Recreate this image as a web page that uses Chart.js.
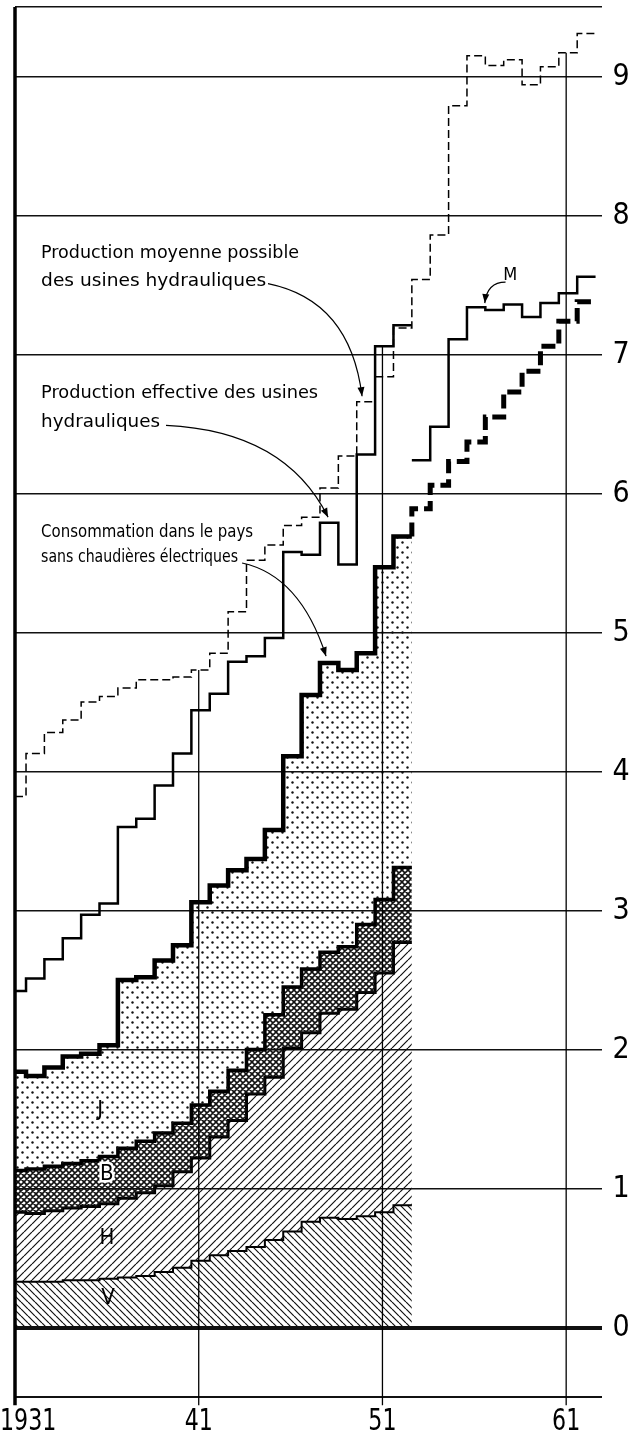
<!DOCTYPE html>
<html>
<head>
<meta charset="utf-8">
<script src="https://cdn.jsdelivr.net/npm/chart.js@4.4.1/dist/chart.umd.min.js"></script>
<style>
  html, body { margin: 0; padding: 0; background: #fff; }
  canvas { display: block; }
</style>
</head>
<body>
<canvas id="chart" width="643" height="1439"></canvas>
<script>
// ---- data (TWh per year) ----
const years = [1931,1932,1933,1934,1935,1936,1937,1938,1939,1940,1941,1942,1943,1944,1945,1946,1947,1948,1949,1950,1951,1952];
const consumption   = [1.84,1.81,1.87,1.95,1.97,2.03,2.50,2.52,2.64,2.75,3.06,3.18,3.29,3.37,3.58,4.11,4.55,4.78,4.73,4.85,5.47,5.69];
const topB          = [1.13,1.14,1.16,1.18,1.20,1.23,1.29,1.34,1.40,1.47,1.60,1.70,1.85,2.00,2.25,2.45,2.58,2.70,2.74,2.90,3.08,3.31];
const topH          = [0.83,0.82,0.84,0.86,0.87,0.89,0.93,0.97,1.02,1.12,1.22,1.37,1.49,1.68,1.80,2.01,2.12,2.26,2.29,2.41,2.55,2.77];
const topV          = [0.33,0.33,0.33,0.34,0.34,0.35,0.36,0.37,0.40,0.43,0.48,0.52,0.55,0.58,0.63,0.69,0.76,0.79,0.78,0.80,0.83,0.88];
const prodEffective = [2.42,2.51,2.65,2.80,2.97,3.05,3.60,3.66,3.90,4.13,4.44,4.56,4.79,4.83,4.96,5.58,5.56,5.79,5.49,6.28,7.06,7.21];

const forecastYears = [1953,1954,1955,1956,1957,1958,1959,1960,1961,1962];
const consForecast  = [5.89,6.06,6.23,6.37,6.55,6.73,6.88,7.06,7.24,7.38];
const prodM         = [6.24,6.48,7.11,7.34,7.32,7.36,7.27,7.37,7.44,7.56];

const possibleYears = [1931,1932,1933,1934,1935,1936,1937,1938,1939,1940,1941,1942,1943,1944,1945,1946,
                       1947,1948,1949,1950,1951,1952,1953,1954,1955,1956,1957,1958,1959,1960,1961,1962];
const prodPossible  = [3.82,4.13,4.28,4.37,4.50,4.54,4.60,4.66,4.66,4.68,4.73,4.85,5.15,5.52,5.63,5.77,
                       5.83,6.04,6.27,6.66,6.84,7.19,7.54,7.86,8.79,9.15,9.08,9.12,8.94,9.07,9.17,9.31];

const tickYears = [1931, 1941, 1951, 1961];
const yTicks = [0,1,2,3,4,5,6,7,8,9];

const X_MIN = 1931, X_MAX = 1962.95, Y_MIN = -0.5, Y_MAX = 9.5;
const SHIFT = 0.4;           // each yearly step runs from year-0.4 to year+0.6
const FONT = "'DejaVu Sans Condensed', 'DejaVu Sans', sans-serif";

function steps(yrs, vals){
  const pts = yrs.map((yr, i) => ({ x: Math.max(X_MIN, yr - SHIFT), y: vals[i] }));
  pts.push({ x: yrs[yrs.length-1] + 1 - SHIFT, y: vals[vals.length-1] });
  return pts;
}
function valueAt(yrs, vals, yr){ const i = yrs.indexOf(yr); return i < 0 ? -Infinity : vals[i]; }

// hatch fills
function pattern(kind){
  const s = kind === "dots" ? 10 : kind === "slash" ? 8 : kind === "cross" ? 6 : 7;
  const c = document.createElement("canvas"); c.width = s; c.height = s;
  const g = c.getContext("2d");
  g.strokeStyle = "#111"; g.fillStyle = "#111";
  g.lineWidth = kind === "cross" ? 1.6 : 1.2;
  g.beginPath();
  if (kind === "slash" || kind === "cross")
    for (const k of [-1,0,1]) { g.moveTo(k*s, s); g.lineTo(k*s + s, 0); }
  if (kind === "back" || kind === "cross")
    for (const k of [-1,0,1]) { g.moveTo(k*s, 0); g.lineTo(k*s + s, s); }
  g.stroke();
  if (kind === "dots") {
    g.beginPath(); g.arc(2.5, 2.5, 1.2, 0, Math.PI*2); g.fill();
    g.beginPath(); g.arc(7.5, 7.5, 1.2, 0, Math.PI*2); g.fill();
  }
  return g.createPattern(c, "repeat");
}

const line = (data, width, extra) => Object.assign({
  data, borderColor: "#000", borderWidth: width, pointRadius: 0, stepped: "before",
  fill: false, borderCapStyle: "butt", borderJoinStyle: "miter", order: 1
}, extra || {});

const datasets = [
  line(steps(years, consumption), 4.5, { fill: 1, backgroundColor: pattern("dots"), order: 5 }),   // J
  line(steps(years, topB), 3.5, { fill: 2, backgroundColor: pattern("cross"), order: 5 }),         // B
  line(steps(years, topH), 3, { fill: 3, backgroundColor: pattern("slash"), order: 5 }),           // H
  line(steps(years, topV), 2, { fill: "origin", backgroundColor: pattern("back"), order: 5 }),     // V
  line(steps(years, prodEffective), 2.5),
  line(steps(possibleYears, prodPossible), 1.5, { borderDash: [8, 4] }),
  line(steps(forecastYears, prodM), 2.5),
  line([{ x: years[years.length-1] + 1 - SHIFT, y: consumption[consumption.length-1] }]
        .concat(steps(forecastYears, consForecast)), 5, { borderDash: [14, 6] })
];

// left axis and vertical year lines (they stop at the highest curve)
datasets.push(line([{ x: X_MIN, y: Y_MIN - 0.06 }, { x: X_MIN, y: Y_MAX }], 3.5, { stepped: false, clip: false, order: 3 }));
tickYears.slice(1).forEach(yr => {
  const top = Math.max(valueAt(possibleYears, prodPossible, yr), valueAt(years, prodEffective, yr),
                       valueAt(forecastYears, prodM, yr));
  datasets.push(line([{ x: yr, y: Y_MIN - 0.06 }, { x: yr, y: top }], 1.3, { stepped: false, clip: false, order: 3 }));
});

function fitText(ctx, str, x, y, width, size){
  ctx.font = size + "px " + FONT;
  const w = ctx.measureText(str).width;
  ctx.save(); ctx.translate(x, y); ctx.scale(width / w, 1);
  ctx.textAlign = "left"; ctx.textBaseline = "middle"; ctx.fillText(str, 0, 0);
  ctx.restore();
}
function arrow(ctx, p0, c, p1){
  ctx.beginPath(); ctx.moveTo(p0[0], p0[1]); ctx.quadraticCurveTo(c[0], c[1], p1[0], p1[1]); ctx.stroke();
  const a = Math.atan2(p1[1] - c[1], p1[0] - c[0]);
  ctx.beginPath();
  ctx.moveTo(p1[0], p1[1]);
  ctx.lineTo(p1[0] - 9*Math.cos(a) + 3.5*Math.sin(a), p1[1] - 9*Math.sin(a) - 3.5*Math.cos(a));
  ctx.lineTo(p1[0] - 9*Math.cos(a) - 3.5*Math.sin(a), p1[1] - 9*Math.sin(a) + 3.5*Math.cos(a));
  ctx.closePath(); ctx.fill();
}

const notes = [
  { text: "Production moyenne possible", x: 1932.42, y: 7.73, w: 258 },
  { text: "des usines hydrauliques",     x: 1932.42, y: 7.53, w: 225 },
  { text: "Production effective des usines", x: 1932.42, y: 6.72, w: 277 },
  { text: "hydrauliques",                x: 1932.42, y: 6.51, w: 119 },
  { text: "Consommation dans le pays",   x: 1932.42, y: 5.72, w: 212 },
  { text: "sans chaudières électriques", x: 1932.42, y: 5.54, w: 197 }
];
const arrows = [
  [[1944.77, 7.51], [1949.24, 7.39], [1949.89, 6.70]],
  [[1939.22, 6.49], [1945.70, 6.45], [1948.04, 5.83]],
  [[1943.36, 5.50], [1946.52, 5.41], [1947.93, 4.83]],
  [[1957.70, 7.52], [1956.70, 7.52], [1956.57, 7.37]]
];
const areaLabels = [
  { text: "J", x: 1935.63, y: 1.56 },
  { text: "B", x: 1936.00, y: 1.10 },
  { text: "H", x: 1936.00, y: 0.64 },
  { text: "V", x: 1936.06, y: 0.21 }
];

const decor = {
  id: "decor",
  afterDatasetsDraw(chart){
    const { ctx, scales: { x, y } } = chart;
    const P = (a) => [x.getPixelForValue(a[0]), y.getPixelForValue(a[1])];
    ctx.save();
    ctx.fillStyle = "#000"; ctx.strokeStyle = "#000";
    notes.forEach(n => fitText(ctx, n.text, x.getPixelForValue(n.x), y.getPixelForValue(n.y), n.w, 18));
    ctx.lineWidth = 1.2;
    arrows.forEach(a => arrow(ctx, P(a[0]), P(a[1]), P(a[2])));
    ctx.font = "18px " + FONT; ctx.textAlign = "center"; ctx.textBaseline = "middle";
    ctx.fillText("M", x.getPixelForValue(1957.95), y.getPixelForValue(7.57));
    ctx.font = "22px " + FONT;
    areaLabels.forEach(l => {
      const px = x.getPixelForValue(l.x), py = y.getPixelForValue(l.y);
      if (l.text === "B") { ctx.strokeStyle = "#fff"; ctx.lineWidth = 5; ctx.strokeText(l.text, px, py); }
      ctx.fillText(l.text, px, py);
    });
    // value labels on the right
    ctx.font = "30px " + FONT;
    yTicks.forEach(v => ctx.fillText(String(v), chart.chartArea.right + 19, y.getPixelForValue(v) + 1));
    // year labels under the axis
    const ly = y.getPixelForValue(Y_MIN) + 25;
    tickYears.forEach((yr, i) => {
      const s = i === 0 ? String(yr) : String(yr).slice(2);
      ctx.textAlign = i === 0 ? "left" : "center";
      ctx.save();
      const px = i === 0 ? 0 : x.getPixelForValue(yr);
      ctx.translate(px, ly); ctx.scale(0.82, 1);
      ctx.fillText(s, 0, 0);
      ctx.restore();
    });
    ctx.restore();
  }
};

new Chart(document.getElementById("chart").getContext("2d"), {
  type: "line",
  data: { datasets },
  options: {
    responsive: false,
    devicePixelRatio: 1,
    animation: false,
    layout: { padding: { left: 15, right: 41, top: 7, bottom: 42 } },
    plugins: { legend: { display: false }, tooltip: { enabled: false } },
    scales: {
      x: { type: "linear", min: X_MIN, max: X_MAX, display: false },
      y: {
        type: "linear", position: "right", min: Y_MIN, max: Y_MAX,
        afterBuildTicks: (s) => { s.ticks = [Y_MIN].concat(yTicks, [Y_MAX]).map(v => ({ value: v })); },
        afterFit: (s) => { s.width = 0; },
        ticks: { display: false },
        border: { display: false },
        grid: {
          drawTicks: false,
          color: "#111",
          lineWidth: (c) => c.tick.value === 0 ? 4 : c.tick.value === Y_MIN ? 2 : 1.4
        }
      }
    }
  },
  plugins: [decor]
});
</script>
</body>
</html>
